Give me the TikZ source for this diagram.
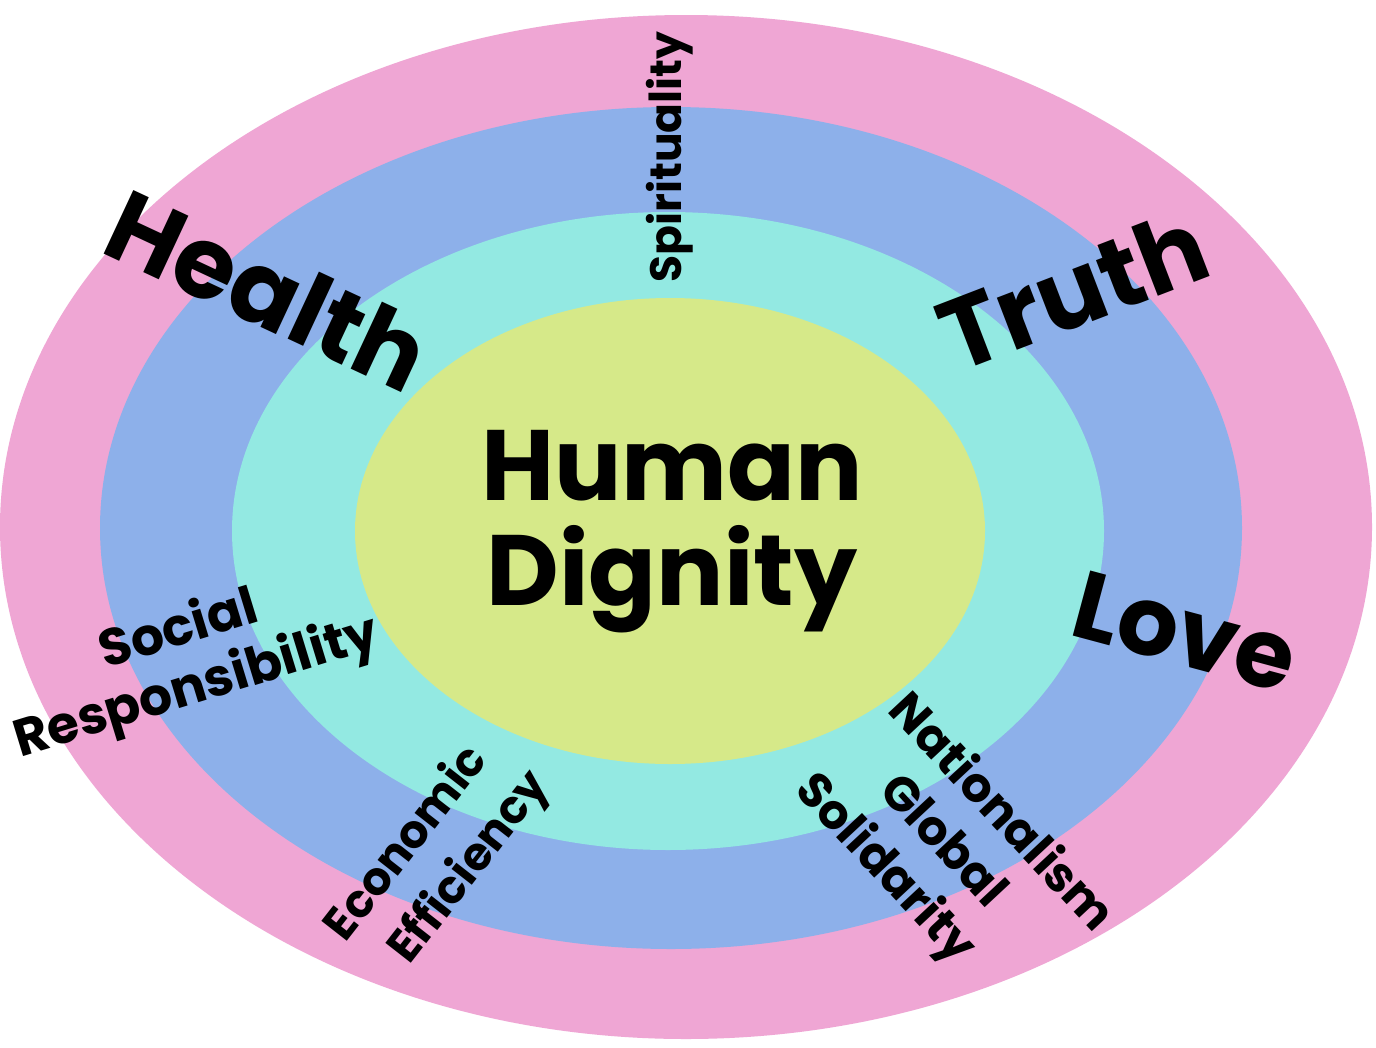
\documentclass[tikz,border=0pt]{standalone}
\usepackage{fontspec}
\setmainfont{Poppins}
\definecolor{ringpink}{RGB}{239,166,212}
\definecolor{ringblue}{RGB}{141,176,234}
\definecolor{ringcyan}{RGB}{147,233,226}
\definecolor{ringyellow}{RGB}{214,233,137}
\begin{document}
\begin{tikzpicture}[x=1pt,y=-1pt,
  lbl/.style={inner sep=0pt, text=black, align=center, font=\bfseries},
  big/.style={lbl, font=\bfseries\fontsize{100}{105}\selectfont}]
  \useasboundingbox (0,0) rectangle (1376,1047);
  \fill[white] (0,0) rectangle (1376,1047);
  % concentric rings
  \fill[ringpink]   (686,527) ellipse [x radius=686, y radius=512];
  \fill[ringblue]   (671,528) ellipse [x radius=571, y radius=421];
  \fill[ringcyan]   (668,531) ellipse [x radius=436, y radius=319];
  \fill[ringyellow] (670,531) ellipse [x radius=315, y radius=233];
  % centre
  \node[big, anchor=base] (human) at (672,500) {Human};
  \node[big, anchor=base] (dignity) at (672,605) {Dignity};
  % outer values
  \node[big, rotate=-25] (health) at (268,290) {Health};
  \node[big, rotate=21] (truth) at (1073,290) {Truth};
  \node[big, rotate=-15, font=\bfseries\fontsize{96}{100}\selectfont] (love) at (1185,632) {Love};
  % inner values (lines staggered a little along their slant)
  \node[lbl, rotate=90, font=\bfseries\fontsize{44}{50}\selectfont] (spirit) at (670,157) {Spirituality};
  \node[lbl, rotate=17, font=\bfseries\fontsize{52}{60}\selectfont] (social) at (188,660) {Social\\Responsibility};
  \node[lbl, rotate=52, font=\bfseries\fontsize{46}{64}\selectfont] (economic) at (439,856)
    {Economic\hspace*{20pt}\\\hspace*{20pt}Efficiency};
  \node[lbl, rotate=-47, font=\bfseries\fontsize{48}{61}\selectfont] (nation) at (942,842)
    {\hspace*{38pt}Nationalism\\Global\\Solidarity\hspace*{38pt}};
\end{tikzpicture}
\end{document}
